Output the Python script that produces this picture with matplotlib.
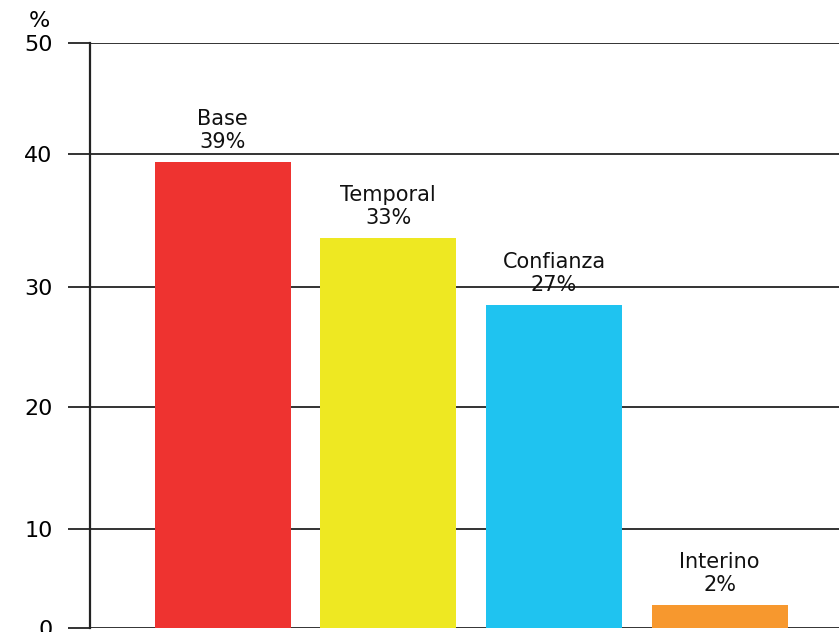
"""Bar chart of contract types (percent)."""

import matplotlib

matplotlib.use("Agg")

import matplotlib.pyplot as plt
import numpy as np

categories = ["Base", "Temporal", "Confianza", "Interino"]
values = [39.4, 33.7, 28.5, 2.3]
value_labels = ["39%", "33%", "27%", "2%"]
colors = ["#EE3330", "#EEE822", "#1FC3F0", "#F7982E"]
y_ticks = [0, 10, 20, 30, 40, 50]

# the source graphic spaces its gridlines unevenly; mimic it with a
# piecewise-linear scale (fraction of axis height for each tick)
tick_fractions = [0.0, 0.170, 0.378, 0.583, 0.810, 1.0]


def _forward(v):
    return np.interp(v, y_ticks, tick_fractions)


def _inverse(f):
    return np.interp(f, tick_fractions, y_ticks)


figure = plt.figure(figsize=(8.39, 6.32), dpi=100)
axis = figure.add_axes([90 / 839, 4 / 632, 749 / 839, 585 / 632])
axis.set_yscale("function", functions=(_forward, _inverse))

positions = np.arange(len(categories))
axis.bar(positions, values, width=0.82, color=colors, zorder=3)

for pos, value, name, label in zip(positions, values, categories, value_labels):
    axis.annotate(
        f"{name}\n{label}",
        xy=(pos, value),
        xytext=(0, 7),
        textcoords="offset points",
        ha="center",
        va="bottom",
        fontsize=15,
        family="DejaVu Sans",
        linespacing=1.2,
        color="#111111",
    )

axis.set_xlim(-0.8, 3.72)
axis.set_ylim(0, 50)
axis.set_yticks(y_ticks)
axis.set_yticklabels([str(t) for t in y_ticks], fontsize=16, family="DejaVu Sans")
axis.minorticks_off()
axis.set_xticks([])
axis.tick_params(axis="y", length=16, width=1.4, color="#333333", pad=11)
axis.grid(axis="y", color="#333333", linewidth=1.4, zorder=1)
for side in ("top", "right", "bottom"):
    axis.spines[side].set_visible(False)
axis.spines["left"].set_linewidth(1.6)
axis.spines["left"].set_color("#222222")
axis.set_axisbelow(True)

figure.text(39 / 839, 1 - 21 / 632, "%", fontsize=16, ha="center", va="center")

figure.savefig("out.png", dpi=100)
plt.close(figure)
